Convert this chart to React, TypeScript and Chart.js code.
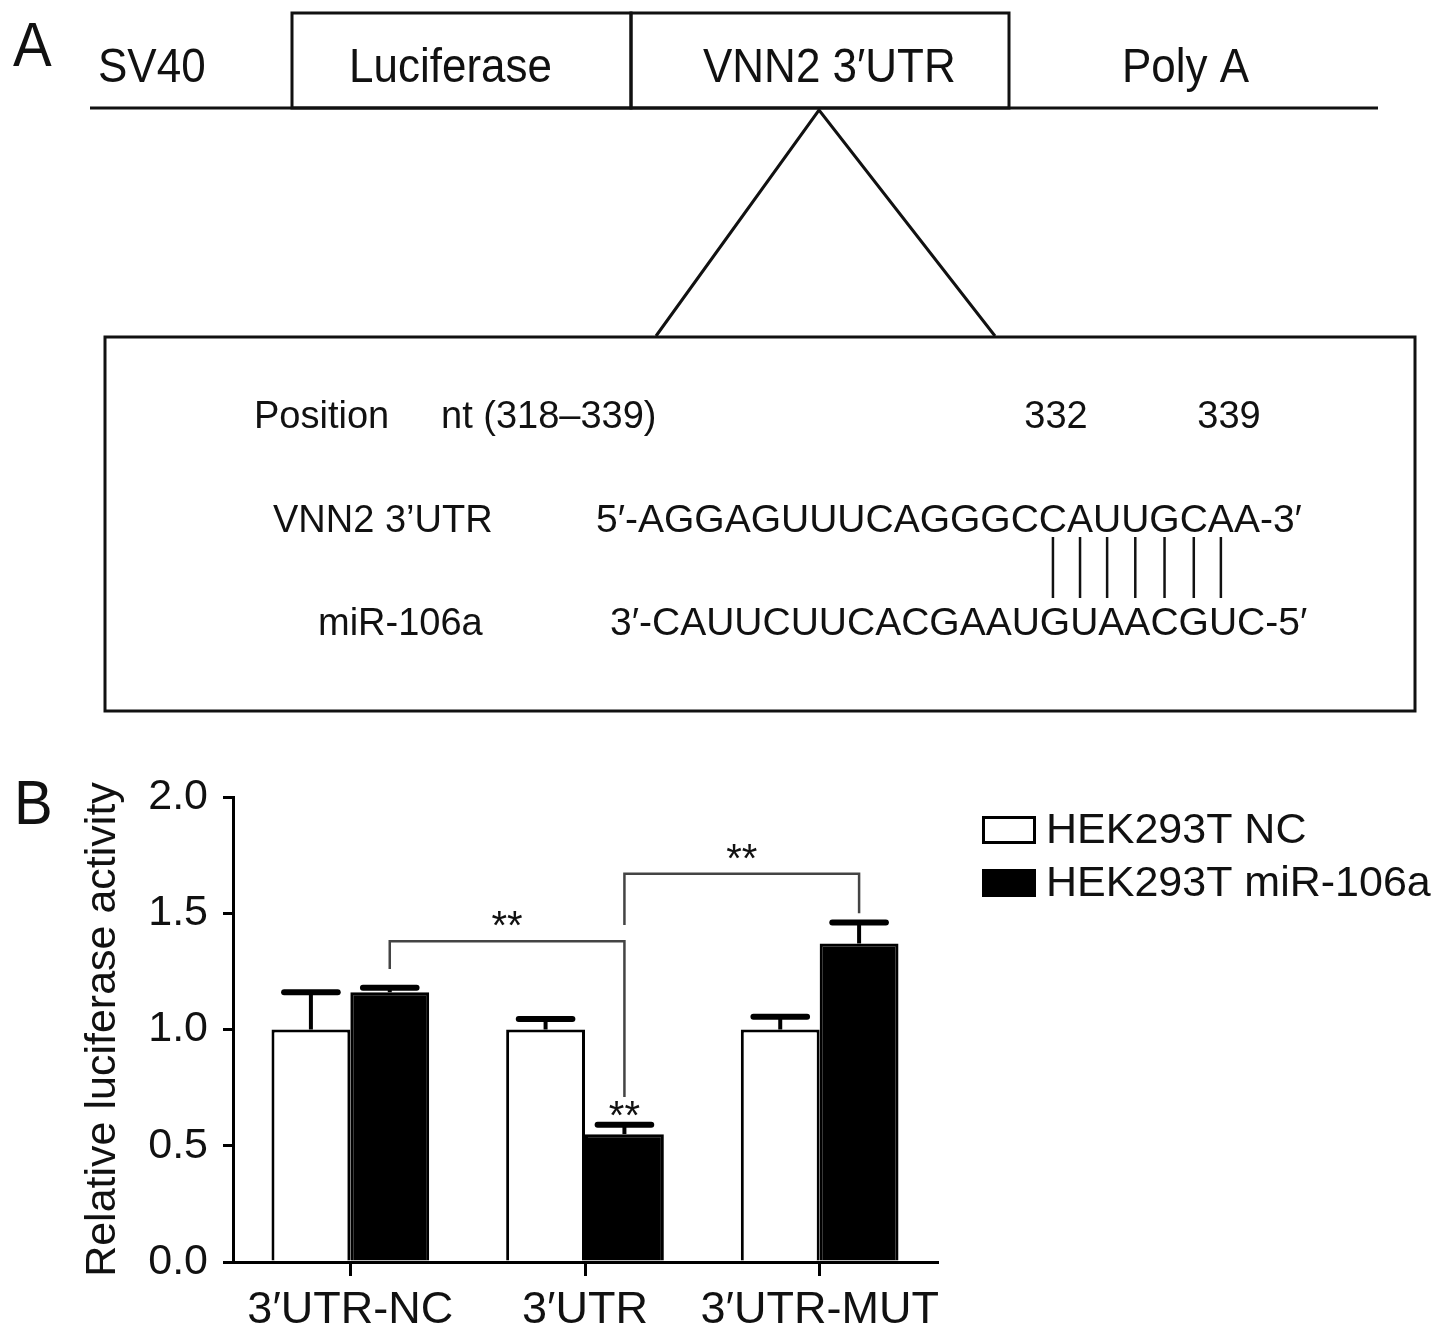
import React, { useEffect, useRef } from 'react';
import { Chart, registerables } from 'chart.js';

Chart.register(...registerables);

// ---------- Panel B data ----------
const categories = ['3′UTR-NC', '3′UTR', '3′UTR-MUT'];
const seriesLabels = ['HEK293T NC', 'HEK293T miR-106a'];
const ncValues = [1.0, 1.0, 1.0];
const ncErrors = [0.16, 0.045, 0.055];
const mirValues = [1.16, 0.55, 1.37];
const mirErrors = [0.02, 0.04, 0.09];
const yTicks = [0, 0.5, 1.0, 1.5, 2.0];
const yTitle = 'Relative luciferase activity';

// significance brackets (category index of each end, on the miR-106a series)
const bracketStartCat = [0, 1];
const bracketEndCat = [1, 2];
const bracketSeries = [1, 1];
const bracketTopValue = [1.38, 1.67];
const bracketStartValue = [1.26, 1.45];
const bracketEndValue = [0.71, 1.5];
const bracketLabels = ['**', '**'];
// single star marks over a bar
const starCat = [1];
const starSeries = [1];
const starValue = [0.66];
const starLabels = ['**'];

// ---------- Panel A content ----------
const constructParts = ['SV40', 'Luciferase', 'VNN2 3′UTR', 'Poly A'];
const positionLabel = 'Position';
const rangeLabel = 'nt (318–339)';
const siteLabels = ['332', '339'];
const utrLabel = 'VNN2 3’UTR';
const mirLabel = 'miR-106a';
const utrSeq = '5′-AGGAGUUUCAGGGCCAUUGCAA-3′';
const mirSeq = '3′-CAUUCUUCACGAAUGUAACGUC-5′';
const pairedPositions = [15, 16, 17, 18, 19, 20, 21];

const FONT = "'Liberation Sans', Arial, Helvetica, sans-serif";
const INK = '#111';

function txt(ctx: CanvasRenderingContext2D, s: string, x: number, y: number, size: number, align: CanvasTextAlign = 'left', sy = 1) {
  ctx.save();
  ctx.font = `${size}px ${FONT}`;
  ctx.textAlign = align;
  ctx.textBaseline = 'alphabetic';
  ctx.fillStyle = INK;
  ctx.translate(x, y);
  ctx.scale(1, sy);
  ctx.fillText(s, 0, 0);
  ctx.restore();
}

const panelAPlugin = {
  id: 'panelA',
  afterDraw(chart: any) {
    const ctx: CanvasRenderingContext2D = chart.ctx;
    ctx.save();
    ctx.strokeStyle = INK;
    ctx.lineWidth = 3;
    ctx.lineJoin = 'miter';
    // panel letters
    txt(ctx, 'A', 13, 66, 58, 'left', 1.08);
    txt(ctx, 'B', 14, 824, 58, 'left', 1.1);

    // construct line and boxes
    ctx.beginPath();
    ctx.moveTo(90, 108);
    ctx.lineTo(1378, 108);
    ctx.stroke();
    ctx.strokeRect(292, 13, 339, 95);
    ctx.strokeRect(631, 13, 378, 95);
    const partX = [98, 349, 703, 1122];
    constructParts.forEach((p, i) => txt(ctx, p, partX[i], 82, 44, 'left', 1.08));

    // zoom triangle
    ctx.beginPath();
    ctx.moveTo(656, 336);
    ctx.lineTo(819, 110);
    ctx.lineTo(995, 336);
    ctx.stroke();

    // inner box
    ctx.strokeRect(105, 337, 1310, 374);

    txt(ctx, positionLabel, 254, 428, 38);
    txt(ctx, rangeLabel, 441, 428, 38);
    txt(ctx, siteLabels[0], 1056, 428, 38, 'center');
    txt(ctx, siteLabels[1], 1229, 428, 38, 'center');
    txt(ctx, utrLabel, 273, 532, 38);
    txt(ctx, mirLabel, 318, 635, 38);

    const seqSize = 39;
    const utrLeft = 596;
    const mirLeft = 610;
    txt(ctx, utrSeq, utrLeft, 532, seqSize);
    txt(ctx, mirSeq, mirLeft, 635, seqSize);

    // pairing lines under paired nucleotides
    ctx.font = `${seqSize}px ${FONT}`;
    ctx.lineWidth = 2.5;
    pairedPositions.forEach((p) => {
      const idx = p + 2;
      const x = utrLeft + ctx.measureText(utrSeq.slice(0, idx)).width + ctx.measureText(utrSeq[idx]).width / 2;
      ctx.beginPath();
      ctx.moveTo(x, 537);
      ctx.lineTo(x, 598);
      ctx.stroke();
    });
    ctx.restore();
  },
};

const errorSets = [ncErrors, mirErrors];

const errorBarPlugin = {
  id: 'errorBars',
  afterDatasetsDraw(chart: any) {
    const ctx: CanvasRenderingContext2D = chart.ctx;
    const yScale = chart.scales.y;
    ctx.save();
    ctx.strokeStyle = '#000';
    chart.data.datasets.forEach((ds: any, di: number) => {
      const meta = chart.getDatasetMeta(di);
      meta.data.forEach((bar: any, i: number) => {
        const v = ds.data[i];
        const e = errorSets[di][i];
        const yTop = yScale.getPixelForValue(v + e);
        const yBar = yScale.getPixelForValue(v);
        const half = bar.width * 0.34;
        ctx.lineWidth = 4;
        ctx.lineCap = 'butt';
        ctx.beginPath();
        ctx.moveTo(bar.x, yBar);
        ctx.lineTo(bar.x, yTop);
        ctx.stroke();
        ctx.lineWidth = 6;
        ctx.lineCap = 'round';
        ctx.beginPath();
        ctx.moveTo(bar.x - half, yTop);
        ctx.lineTo(bar.x + half, yTop);
        ctx.stroke();
      });
    });

    // significance brackets
    ctx.strokeStyle = '#444';
    ctx.lineWidth = 2.5;
    ctx.lineCap = 'butt';
    bracketStartCat.forEach((sc, k) => {
      const meta = chart.getDatasetMeta(bracketSeries[k]);
      const x1 = meta.data[sc].x;
      const x2 = meta.data[bracketEndCat[k]].x;
      const yT = yScale.getPixelForValue(bracketTopValue[k]);
      ctx.beginPath();
      ctx.moveTo(x1, yScale.getPixelForValue(bracketStartValue[k]));
      ctx.lineTo(x1, yT);
      ctx.lineTo(x2, yT);
      ctx.lineTo(x2, yScale.getPixelForValue(bracketEndValue[k]));
      ctx.stroke();
      ctx.font = `40px ${FONT}`;
      ctx.fillStyle = '#111';
      ctx.textAlign = 'center';
      ctx.textBaseline = 'alphabetic';
      ctx.fillText(bracketLabels[k], (x1 + x2) / 2, yT - 2);
    });
    starCat.forEach((c, k) => {
      const meta = chart.getDatasetMeta(starSeries[k]);
      const x = meta.data[c].x;
      ctx.font = `40px ${FONT}`;
      ctx.fillStyle = '#111';
      ctx.textAlign = 'center';
      ctx.textBaseline = 'alphabetic';
      ctx.fillText(starLabels[k], x, yScale.getPixelForValue(starValue[k]) + 20);
    });
    ctx.restore();
  },
};

const legendPlugin = {
  id: 'sideLegend',
  afterDraw(chart: any) {
    const ctx: CanvasRenderingContext2D = chart.ctx;
    ctx.save();
    const rowY = [830, 883];
    chart.data.datasets.forEach((ds: any, i: number) => {
      const cy = rowY[i];
      ctx.fillStyle = ds.backgroundColor;
      ctx.fillRect(982, cy - 14, 54, 28);
      ctx.strokeStyle = '#000';
      ctx.lineWidth = 3;
      ctx.strokeRect(983.5, cy - 12.5, 51, 25);
      ctx.fillStyle = '#111';
      ctx.font = `43px ${FONT}`;
      ctx.textAlign = 'left';
      ctx.textBaseline = 'middle';
      ctx.fillText(ds.label, 1046, cy + 1);
    });
    ctx.restore();
  },
};

export default function App() {
  const ref = useRef<HTMLCanvasElement | null>(null);
  useEffect(() => {
    if (!ref.current) return;
    const tickFont = { family: FONT, size: 45 };
    const chart = new Chart(ref.current, {
      type: 'bar',
      data: {
        labels: categories,
        datasets: [
          { label: seriesLabels[0], data: ncValues, backgroundColor: '#ffffff', borderColor: '#000', borderWidth: 3 },
          { label: seriesLabels[1], data: mirValues, backgroundColor: '#000000', borderColor: '#000', borderWidth: 3 },
        ],
      },
      options: {
        responsive: false,
        animation: false,
        devicePixelRatio: 1,
        layout: { padding: { top: 797, left: 0, right: 504, bottom: 0 } },
        datasets: { bar: { categoryPercentage: 0.672, barPercentage: 1.0 } },
        plugins: { legend: { display: false }, tooltip: { enabled: false } },
        scales: {
          x: {
            grid: { offset: false, drawOnChartArea: false, drawTicks: true, tickLength: 14, color: '#000', lineWidth: 3 },
            border: { display: true, color: '#000', width: 3 },
            ticks: { color: '#111', font: tickFont, padding: 8, maxRotation: 0, autoSkip: false },
            afterFit: (s: any) => { s.height = 82; },
          },
          y: {
            min: 0,
            max: 2,
            afterBuildTicks: (s: any) => { s.ticks = yTicks.map((v) => ({ value: v })); },
            ticks: { color: '#111', font: { family: FONT, size: 43 }, padding: 15, callback: (v: any) => Number(v).toFixed(1) },
            grid: { drawOnChartArea: false, drawTicks: true, tickLength: 10, color: '#000', lineWidth: 3 },
            border: { display: true, color: '#000', width: 3 },
            title: { display: true, text: yTitle, color: '#111', font: { family: FONT, size: 43 }, padding: { top: 77, bottom: 0 } },
            afterFit: (s: any) => { s.width = 233; },
          },
        },
      },
      plugins: [panelAPlugin, errorBarPlugin, legendPlugin],
    } as any);
    return () => chart.destroy();
  }, []);
  return (
    <div style={{ position: 'absolute', left: 0, top: 0, width: 1441, height: 1344, background: '#fff' }}>
      <canvas ref={ref} width={1441} height={1344} style={{ display: 'block' }} />
    </div>
  );
}
